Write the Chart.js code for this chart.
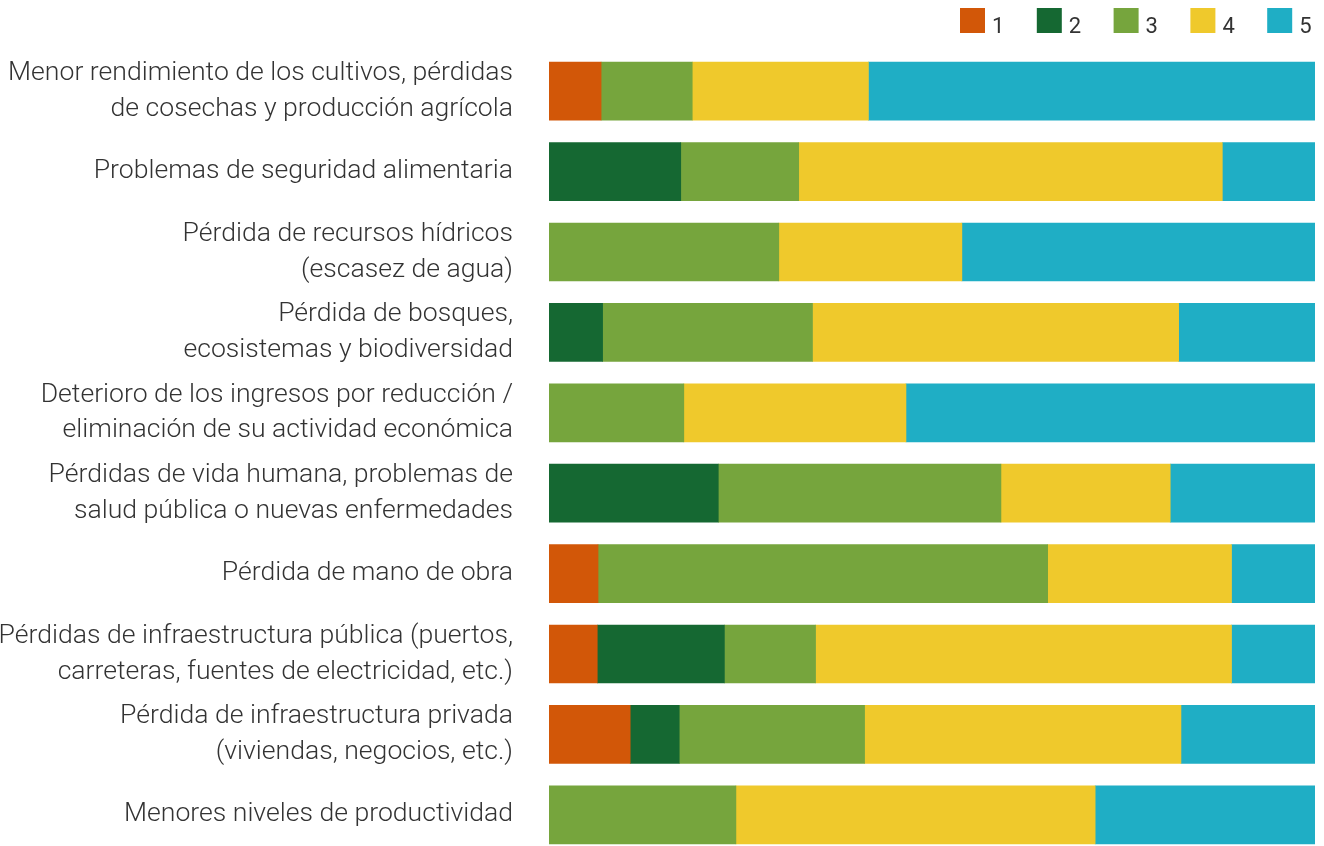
<!DOCTYPE html>
<html>
<head>
<meta charset="utf-8">
<script src="https://cdn.jsdelivr.net/npm/chart.js@4/dist/chart.umd.min.js"></script>
<style>
html,body{margin:0;padding:0;background:#ffffff;overflow:hidden;}
#wrap{position:relative;width:1324px;height:856px;}
</style>
</head>
<body>
<div id="wrap"><canvas id="c" width="1324" height="856"></canvas></div>
<script>
const categories = [
  ["Menor rendimiento de los cultivos, pérdidas", "de cosechas y producción agrícola"],
  "Problemas de seguridad alimentaria",
  ["Pérdida de recursos hídricos", "(escasez de agua)"],
  ["Pérdida de bosques,", "ecosistemas y biodiversidad"],
  ["Deterioro de los ingresos por reducción /", "eliminación de su actividad económica"],
  ["Pérdidas de vida humana, problemas de", "salud pública o nuevas enfermedades"],
  "Pérdida de mano de obra",
  ["Pérdidas de infraestructura pública (puertos,", "carreteras, fuentes de electricidad, etc.)"],
  ["Pérdida de infraestructura privada", "(viviendas, negocios, etc.)"],
  "Menores niveles de productividad"
];
const seriesNames = ["1", "2", "3", "4", "5"];
const s1 = [6.8, 0, 0, 0, 0, 0, 6.4, 6.3, 10.6, 0];
const s2 = [0, 17.2, 0, 7.0, 0, 22.1, 0, 16.6, 6.4, 0];
const s3 = [11.9, 15.4, 30.0, 27.4, 17.6, 36.9, 58.7, 11.9, 24.2, 24.4];
const s4 = [23.0, 55.3, 23.9, 47.8, 29.0, 22.1, 24.0, 54.3, 41.3, 46.9];
const s5 = [58.3, 12.1, 46.1, 17.8, 53.4, 18.9, 10.9, 10.9, 17.5, 28.7];
const colors = ["#D25708", "#156832", "#76A53D", "#EFC92C", "#1FAEC5"];

const seriesValues = [s1, s2, s3, s4, s5];
const datasets = seriesValues.map((d, i) => ({
  label: seriesNames[i],
  data: d.map(v => (v === 0 ? null : v)),
  backgroundColor: colors[i],
  borderWidth: 0,
  barThickness: 58
}));

const legendPlugin = {
  id: 'customLegend',
  afterDraw(chart) {
    const ctx = chart.ctx;
    ctx.save();
    ctx.font = '400 22px Roboto';
    ctx.textBaseline = 'alphabetic';
    ctx.textAlign = 'left';
    chart.data.datasets.forEach((ds, i) => {
      const bx = 960 + i * 76.8;
      ctx.fillStyle = ds.backgroundColor;
      ctx.fillRect(bx, 8, 25, 25);
      ctx.fillStyle = '#333333';
      ctx.fillText(ds.label, bx + 32, 33);
    });
    ctx.restore();
  }
};

new Chart(document.getElementById('c'), {
  type: 'bar',
  data: { labels: categories, datasets: datasets },
  options: {
    indexAxis: 'y',
    responsive: false,
    animation: false,
    layout: { padding: { top: 51, bottom: 1, left: 0, right: 9 } },
    plugins: { legend: { display: false }, tooltip: { enabled: false } },
    scales: {
      x: { stacked: true, min: 0, max: 100, display: false },
      y: {
        stacked: true,
        grid: { display: false, drawTicks: false },
        border: { display: false },
        afterFit(scale) {
          scale.width = 549;
          scale.paddingTop = 0;
          scale.paddingBottom = 0;
        },
        ticks: {
          padding: 36,
          color: '#333333',
          font: { family: 'Roboto', size: 26.6, weight: '300', lineHeight: 1.35 }
        }
      }
    }
  },
  plugins: [legendPlugin]
});
</script>
</body>
</html>
